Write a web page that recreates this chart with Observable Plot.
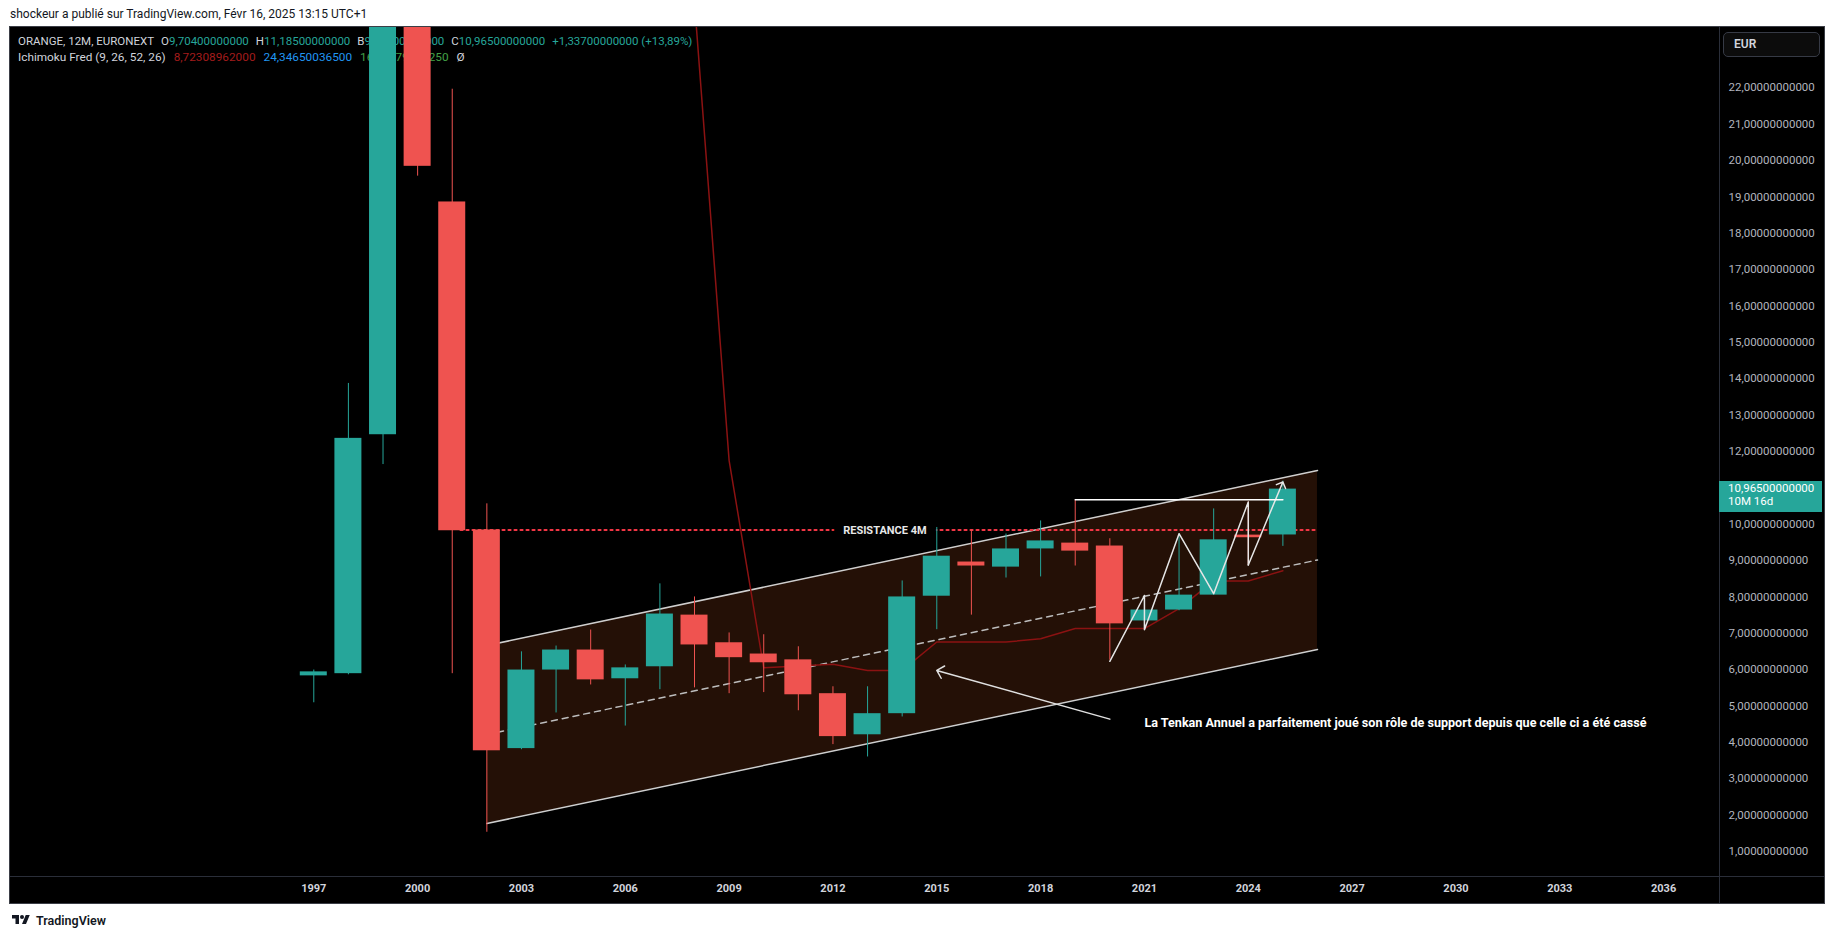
<!DOCTYPE html>
<html>
<head>
<meta charset="utf-8">
<script src="https://cdn.jsdelivr.net/npm/d3@7"></script>
<script src="https://cdn.jsdelivr.net/npm/@observablehq/plot@0.6"></script>
<style>
  html, body { margin: 0; padding: 0; background: #ffffff; }
  body { width: 1835px; height: 939px; position: relative; overflow: hidden; font-family: Roboto, "Liberation Sans", sans-serif; }
  #title { position: absolute; left: 10px; top: 6px; font-size: 12px; line-height: 16px; color: #131722; white-space: pre; }
  #panel { position: absolute; left: 9px; top: 26px; width: 1816px; height: 878px; background: #000; border: 1px solid #3b3e46; box-sizing: border-box; }
  #vsep { position: absolute; left: 1719px; top: 27px; width: 1px; height: 876px; background: #2a2e39; }
  #hsep { position: absolute; left: 10px; top: 876px; width: 1814px; height: 1px; background: #2a2e39; }
  #hdr { position: absolute; left: 18px; top: 33px; font-size: 11.5px; line-height: 16px; color: #d1d4dc; white-space: pre; }
  #hdr span.v { color: #26a69a; }
  #hdr span.s { display: inline-block; width: 7px; }
  #hdr div.l2 { font-size: 11.8px; }
  #hdr div.l2 span.s { width: 8px; }
  #chart { position: absolute; left: 9px; top: 27px; }
  #eur { position: absolute; left: 1723px; top: 32px; width: 97px; height: 25px; box-sizing: border-box; border: 1px solid #363a45; border-radius: 5px; background: #0c0c0c; color: #d1d4dc; font-size: 12px; font-weight: 600; line-height: 23px; padding-left: 10px; }
  #price { position: absolute; left: 1719px; width: 103px; height: 31px; background: #26a69a; color: #ffffff; font-size: 11.5px; line-height: 13px; padding: 1px 0 0 9px; box-sizing: border-box; }
  #footer { position: absolute; left: 10px; top: 911px; height: 18px; display: flex; align-items: center; color: #131722; font-size: 12.5px; font-weight: 600; }
  #footer svg { margin-right: 4px; }
</style>
</head>
<body>
<div id="title">shockeur a publié sur TradingView.com, Févr 16, 2025 13:15 UTC+1</div>
<div id="panel"></div>
<div id="vsep"></div>
<div id="hsep"></div>
<div id="hdr"><div>ORANGE, 12M, EURONEXT<span class="s"></span>O<span class="v">9,70400000000</span><span class="s"></span>H<span class="v">11,18500000000</span><span class="s"></span>B<span class="v">9,39000000000</span><span class="s"></span>C<span class="v">10,96500000000</span><span class="s"></span><span class="v">+1,33700000000 (+13,89%)</span></div><div class="l2">Ichimoku Fred (9, 26, 52, 26)<span class="s"></span><span style="color:#a31c1c">8,72308962000</span><span class="s"></span><span style="color:#2196f3">24,34650036500</span><span class="s"></span><span style="color:#43a047">16,53479499250</span><span class="s"></span>Ø</div></div>
<div id="chart"></div>
<div id="eur">EUR</div>
<div id="price"><div>10,96500000000</div><div>10M 16d</div></div>
<div id="footer"><svg width="22" height="14" viewBox="0 0 36 28"><path fill="#131722" d="M14 22H7V11H0V4h14v18zM28 22h-8l7.5-18h8L28 22z"/><circle fill="#131722" cx="20" cy="8" r="4"/></svg>TradingView</div>
<script>
// ---- Yearly candles (ORANGE, 12M, EURONEXT) ----
const years  = [1997, 1998, 1999, 2000, 2001, 2002, 2003, 2004, 2005, 2006, 2007, 2008, 2009, 2010, 2011, 2012, 2013, 2014, 2015, 2016, 2017, 2018, 2019, 2020, 2021, 2022, 2023, 2024, 2025];
const opens  = [5.83, 5.89, 12.46, 28.6, 18.86, 9.84, 3.83, 5.99, 6.54, 5.75, 6.08, 7.50, 6.74, 6.43, 6.27, 5.34, 4.21, 4.79, 8.02, 8.96, 8.82, 9.32, 9.48, 9.40, 7.34, 7.64, 8.05, 9.70, 9.704];
const highs  = [5.99, 13.87, 30.1, 47.16, 21.96, 10.56, 6.49, 6.65, 7.09, 6.13, 8.36, 8.00, 7.01, 6.96, 6.63, 5.53, 5.53, 8.44, 9.91, 9.84, 9.73, 10.09, 10.66, 9.60, 8.04, 9.74, 10.42, 10.61, 11.185];
const lows   = [5.09, 5.86, 11.64, 19.57, 5.89, 1.53, 3.80, 4.81, 5.58, 4.45, 5.45, 5.50, 5.34, 5.37, 4.87, 3.94, 3.60, 4.70, 7.10, 7.50, 8.52, 8.55, 8.85, 6.26, 7.10, 7.62, 8.05, 8.88, 9.39];
const closes = [5.94, 12.36, 28.6, 19.84, 9.82, 3.77, 5.99, 6.54, 5.72, 6.05, 7.53, 6.68, 6.33, 6.19, 5.31, 4.16, 4.79, 8.00, 9.12, 8.85, 9.32, 9.54, 9.26, 7.26, 7.64, 8.05, 9.57, 9.628, 10.965];

// ---- Ichimoku Tenkan (yearly) ----
const tenkanYears  = [2008, 2009, 2010, 2011, 2012, 2013, 2014, 2015, 2016, 2017, 2018, 2019, 2020, 2021, 2022, 2023, 2024, 2025];
const tenkanValues = [24.35, 11.75, 6.05, 6.10, 6.15, 5.98, 5.98, 6.76, 6.76, 6.76, 6.85, 7.13, 7.13, 7.13, 7.68, 8.44, 8.44, 8.72];

// ---- Drawings ----
const channelYears = [2002, 2026];
const channelUpper = [6.665, 11.476];
const channelLower = [1.771, 6.555];
const channelMid   = [4.218, 9.016];

const resistanceYears = [2001.24, 2026];
const resistanceLevel = 9.84;
const resistanceLabel = "RESISTANCE 4M";

const zigzagYears  = [2020, 2021, 2021, 2022, 2023, 2024, 2024];
const zigzagValues = [6.23, 8.04, 7.10, 9.74, 8.09, 10.61, 8.88];
const zigzagTip    = [2025, 11.16];

const highLineYears = [2019, 2025];
const highLineLevel = 10.67;

const arrowFrom = [2020.0, 4.64];
const arrowTo   = [2015.0, 5.98];
const noteText  = "La Tenkan Annuel a parfaitement joué son rôle de support depuis que celle ci a été cassé";
const noteAt    = [2021.0, 4.54];

const lastPrice = 10.965;

// ---- Axes ----
const yearTicks  = [1997, 2000, 2003, 2006, 2009, 2012, 2015, 2018, 2021, 2024, 2027, 2030, 2033, 2036];
const priceTicks = [1, 2, 3, 4, 5, 6, 7, 8, 9, 10, 12, 13, 14, 15, 16, 17, 18, 19, 20, 21, 22];

// ---- Build tables ----
const up = "#26a69a", down = "#ef5350";
const candles = years.map((year, i) => ({year, open: opens[i], high: highs[i], low: lows[i], close: closes[i]}));
const candleColor = d => (d.close >= d.open ? up : down);
const tenkan = tenkanYears.map((year, i) => ({year, value: tenkanValues[i]}));
const channel = channelYears.map((year, i) => ({year, upper: channelUpper[i], lower: channelLower[i], mid: channelMid[i]}));
const resistance = resistanceYears.map(year => ({year, value: resistanceLevel}));
const zigzag = zigzagYears.map((year, i) => ({year, value: zigzagValues[i]}));
const highLine = highLineYears.map(year => ({year, value: highLineLevel}));
const halfBody = 0.39;

const plot = Plot.plot({
  width: 1815,
  height: 876,
  marginLeft: 0,
  marginRight: 105,
  marginTop: 0,
  marginBottom: 27,
  style: {background: "transparent", fontFamily: "Roboto, 'Liberation Sans', sans-serif", color: "#b2b5be", overflow: "visible"},
  x: {type: "linear", domain: [1988.208, 2037.615]},
  y: {type: "linear", domain: [0.3134, 23.657]},
  marks: [
    Plot.areaY(channel, {x: "year", y1: "lower", y2: "upper", fill: "#241006"}),
    Plot.line(channel, {x: "year", y: "upper", stroke: "#cfcfcf", strokeWidth: 1.5}),
    Plot.line(channel, {x: "year", y: "lower", stroke: "#cfcfcf", strokeWidth: 1.5}),
    Plot.line(channel, {x: "year", y: "mid", stroke: "#bdbdbd", strokeWidth: 1.5, strokeDasharray: "6,5"}),
    Plot.line(resistance, {x: "year", y: "value", stroke: "#f23645", strokeWidth: 2.2, strokeDasharray: "2,4"}),
    Plot.text([{year: (resistanceYears[0] + resistanceYears[1]) / 2 - 0.12, value: resistanceLevel}], {
      x: "year", y: "value", text: () => resistanceLabel, fill: "#e8e8e8", stroke: "#000000", strokeWidth: 20,
      fontSize: 11, fontWeight: 700
    }),
    Plot.line(tenkan, {x: "year", y: "value", stroke: "#8b1212", strokeWidth: 1.5, clip: true}),
    Plot.ruleX(candles, {x: "year", y1: "low", y2: "high", stroke: candleColor, strokeWidth: 1, clip: true}),
    Plot.rect(candles, {x1: d => d.year - halfBody, x2: d => d.year + halfBody, y1: "open", y2: "close", fill: candleColor, clip: true}),
    Plot.line(zigzag, {x: "year", y: "value", stroke: "#e6e6e6", strokeWidth: 1.5}),
    Plot.arrow([0], {x1: () => zigzagYears[zigzagYears.length - 1], y1: () => zigzagValues[zigzagValues.length - 1],
      x2: () => zigzagTip[0], y2: () => zigzagTip[1], stroke: "#e6e6e6", strokeWidth: 1.5, headLength: 7, headAngle: 90}),
    Plot.line(highLine, {x: "year", y: "value", stroke: "#ffffff", strokeWidth: 1.5}),
    Plot.arrow([0], {x1: () => arrowFrom[0], y1: () => arrowFrom[1], x2: () => arrowTo[0], y2: () => arrowTo[1],
      stroke: "#e0e0e0", strokeWidth: 1.5, headLength: 9, headAngle: 90}),
    Plot.text([0], {x: () => noteAt[0], y: () => noteAt[1], text: () => noteText, textAnchor: "start",
      fill: "#ffffff", fontSize: 12.6, fontWeight: 700}),
    Plot.axisX(yearTicks, {anchor: "bottom", tickSize: 0, tickPadding: 8, tickFormat: d => String(d),
      fontSize: 11, fontWeight: 700, fill: "#d1d4dc", label: null}),
    Plot.axisY(priceTicks, {anchor: "right", tickSize: 0, tickPadding: 9, tickFormat: d => d.toFixed(11).replace(".", ","),
      fontSize: 11.5, fill: "#b2b5be", label: null})
  ]
});
document.getElementById("chart").appendChild(plot);

const yPix = plot.scale("y").apply(lastPrice) + 27;
const priceBox = document.getElementById("price");
priceBox.style.top = (yPix - 8) + "px";
</script>
</body>
</html>
